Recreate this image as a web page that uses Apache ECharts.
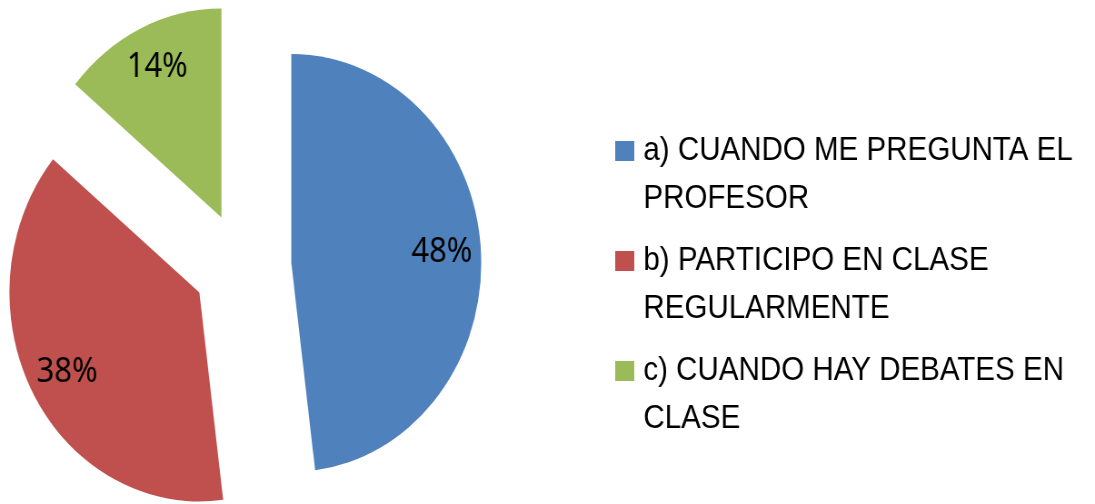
<!DOCTYPE html>
<html><head><meta charset="utf-8">
<script src="https://cdn.jsdelivr.net/npm/echarts@6/dist/echarts.min.js"></script>
<style>
html,body{margin:0;padding:0;background:#fff;overflow:hidden;width:1095px;height:504px;}
#c{width:1205px;height:504px;transform:scaleX(0.9087);transform-origin:0 0;}
</style></head><body><div id="c"></div>
<script>
const categories = ['a) CUANDO ME PREGUNTA EL PROFESOR', 'b) PARTICIPO EN CLASE REGULARMENTE', 'c) CUANDO HAY DEBATES EN CLASE'];
const values = [48, 38, 14];
const colors = ['#4F81BD', '#C0504D', '#9BBB59'];

const chart = echarts.init(document.getElementById('c'), null, {renderer: 'canvas'});
const center = [266.7, 266.4];
const R = 209;
function mk(transparent) {
  return categories.map((n, i) => ({
    name: n, value: values[i], selected: true,
    itemStyle: {color: transparent ? 'rgba(0,0,0,0)' : colors[i]}
  }));
}
chart.setOption({
  animation: false,
  backgroundColor: '#fff',
  legend: {
    orient: 'vertical', left: 677, top: 79, padding: 0,
    itemWidth: 21, itemHeight: 20, itemGap: -34, icon: 'rect',
    selectedMode: false,
    data: categories,
    formatter: n => '\n' + n,
    textStyle: {fontFamily: 'Liberation Sans', fontSize: 32.5, color: '#000', lineHeight: 48,
      width: 495, overflow: 'break', padding: [0, 0, 0, 5]}
  },
  series: [{
    type: 'pie', center: center, radius: R, startAngle: 90, clockwise: true,
    selectedMode: 'multiple', selectedOffset: 54, silent: true,
    label: {show: false}, labelLine: {show: false},
    emphasis: {disabled: true}, select: {itemStyle: {borderWidth: 0}},
    data: mk(false)
  }, {
    type: 'pie', center: center, radius: [117, R], startAngle: 90, clockwise: true,
    selectedMode: 'multiple', selectedOffset: 54, silent: true, legendHoverLink: false,
    label: {show: true, position: 'inside', fontFamily: 'Noto Sans', fontSize: 34, color: '#000',
      formatter: p => Math.round(p.percent) + '%'},
    labelLine: {show: false},
    emphasis: {disabled: true}, select: {itemStyle: {borderWidth: 0}},
    data: mk(true)
  }]
});
</script></body></html>
